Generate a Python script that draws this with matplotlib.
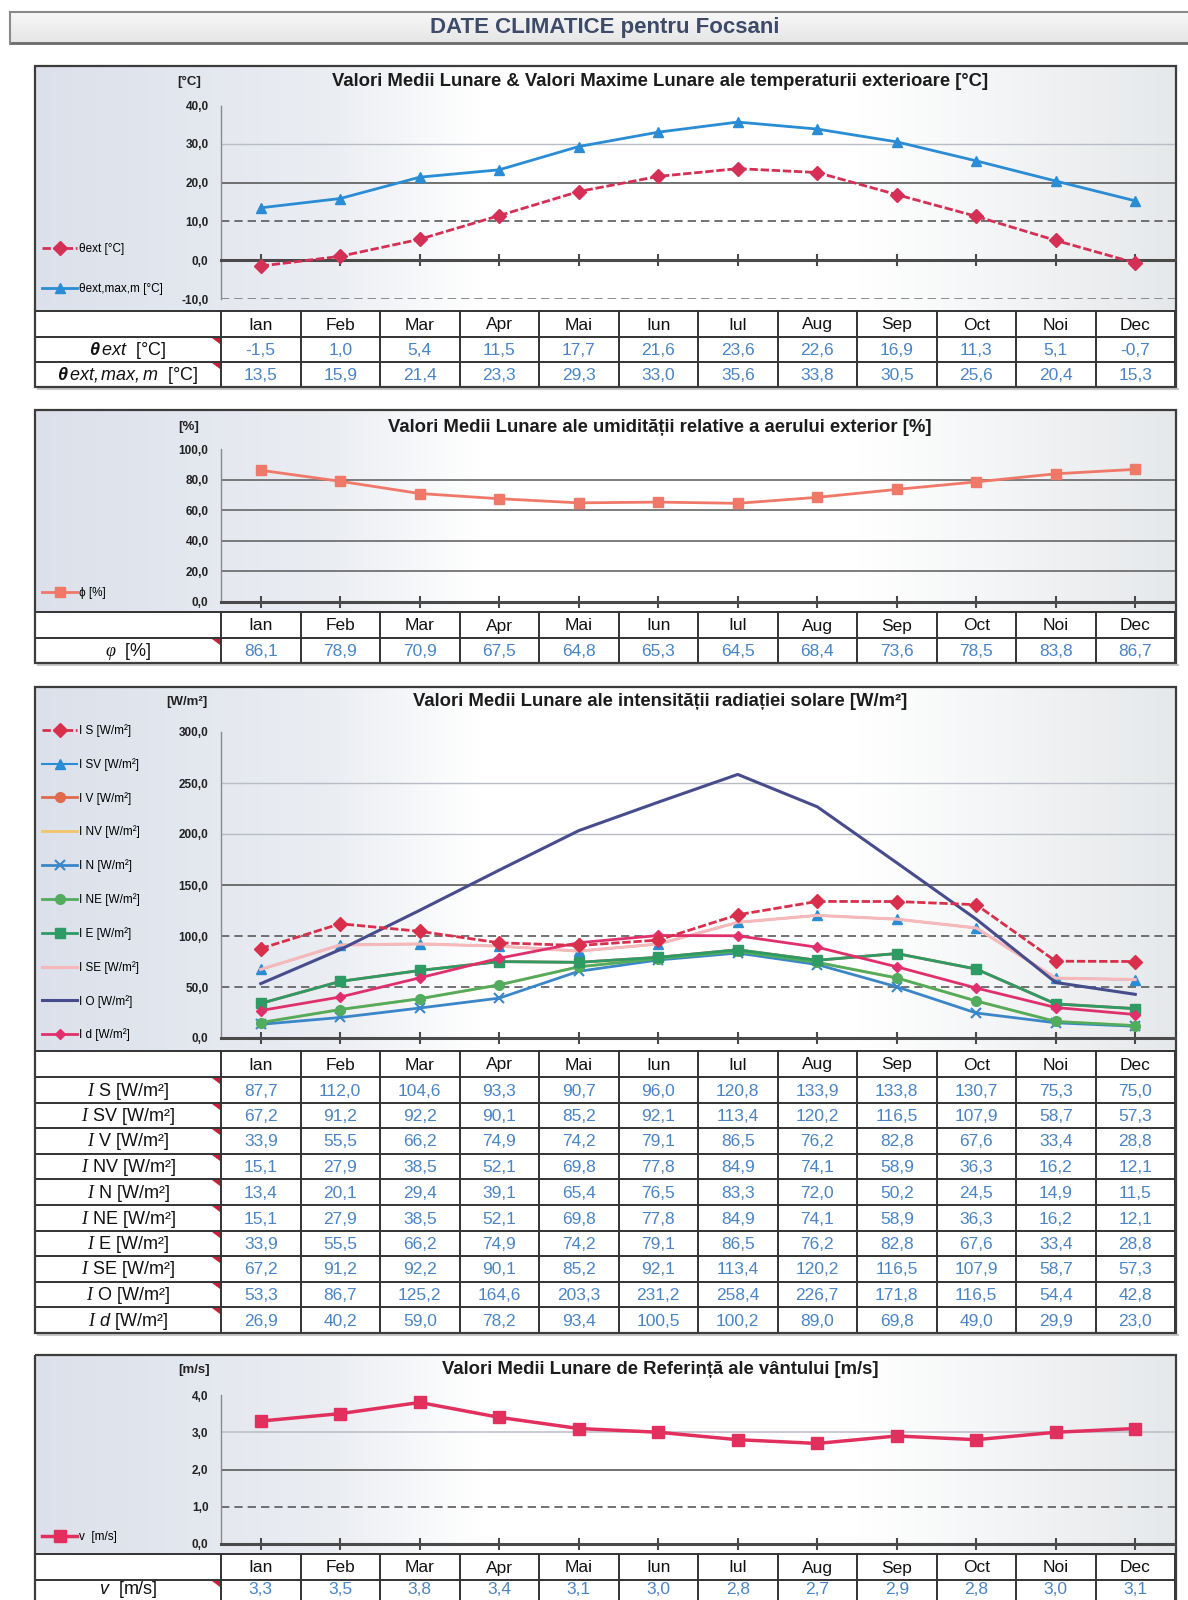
import numpy as np
import matplotlib
matplotlib.use("Agg")
import matplotlib.pyplot as plt
from matplotlib.patches import Rectangle, Polygon

plt.rcParams["font.family"] = ["Liberation Sans", "DejaVu Sans"]
plt.rcParams["mathtext.fontset"] = "custom"
plt.rcParams["mathtext.rm"] = "Liberation Sans"
plt.rcParams["mathtext.it"] = "Liberation Serif:italic"
plt.rcParams["mathtext.bf"] = "Liberation Sans:bold"
plt.rcParams["mathtext.sf"] = "Liberation Sans:italic"
plt.rcParams["mathtext.bfit"] = "Liberation Sans:italic:bold"

# ---- data ----
months = ["Ian", "Feb", "Mar", "Apr", "Mai", "Iun", "Iul", "Aug", "Sep", "Oct", "Noi", "Dec"]

theta_ext = [-1.5, 1.0, 5.4, 11.5, 17.7, 21.6, 23.6, 22.6, 16.9, 11.3, 5.1, -0.7]
theta_max = [13.5, 15.9, 21.4, 23.3, 29.3, 33.0, 35.6, 33.8, 30.5, 25.6, 20.4, 15.3]

phi = [86.1, 78.9, 70.9, 67.5, 64.8, 65.3, 64.5, 68.4, 73.6, 78.5, 83.8, 86.7]

I_S = [87.7, 112.0, 104.6, 93.3, 90.7, 96.0, 120.8, 133.9, 133.8, 130.7, 75.3, 75.0]
I_SV = [67.2, 91.2, 92.2, 90.1, 85.2, 92.1, 113.4, 120.2, 116.5, 107.9, 58.7, 57.3]
I_V = [33.9, 55.5, 66.2, 74.9, 74.2, 79.1, 86.5, 76.2, 82.8, 67.6, 33.4, 28.8]
I_NV = [15.1, 27.9, 38.5, 52.1, 69.8, 77.8, 84.9, 74.1, 58.9, 36.3, 16.2, 12.1]
I_N = [13.4, 20.1, 29.4, 39.1, 65.4, 76.5, 83.3, 72.0, 50.2, 24.5, 14.9, 11.5]
I_NE = [15.1, 27.9, 38.5, 52.1, 69.8, 77.8, 84.9, 74.1, 58.9, 36.3, 16.2, 12.1]
I_E = [33.9, 55.5, 66.2, 74.9, 74.2, 79.1, 86.5, 76.2, 82.8, 67.6, 33.4, 28.8]
I_SE = [67.2, 91.2, 92.2, 90.1, 85.2, 92.1, 113.4, 120.2, 116.5, 107.9, 58.7, 57.3]
I_O = [53.3, 86.7, 125.2, 164.6, 203.3, 231.2, 258.4, 226.7, 171.8, 116.5, 54.4, 42.8]
I_d = [26.9, 40.2, 59.0, 78.2, 93.4, 100.5, 100.2, 89.0, 69.8, 49.0, 29.9, 23.0]

wind = [3.3, 3.5, 3.8, 3.4, 3.1, 3.0, 2.8, 2.7, 2.9, 2.8, 3.0, 3.1]

# ---- layout (pixels, y measured from top) ----
W, H = 1188, 1600
BOX_L, BOX_R = 35, 1176
XL, XR = 221, 1175
COLW = (XR - XL) / 12
LABEL_X = (BOX_L + XL) / 2
VAL_BLUE = "#4a84c4"
GRID_DARK = "#5a5a5a"
GRID_LIGHT = "#b8bcc4"

fig = plt.figure(figsize=(W / 100, H / 100), dpi=100)
fig.patch.set_facecolor("white")

ax0 = fig.add_axes([0, 0, 1, 1])
ax0.set_xlim(0, W)
ax0.set_ylim(H, 0)
ax0.axis("off")


def fmt(v, dec=1):
    return f"{v:.{dec}f}".replace(".", ",")


def chart_background(top, bottom):
    xs = np.linspace(BOX_L, BOX_R, 400)
    stops_x = [BOX_L, 330, 480, 860, BOX_R]
    stops = np.array([[0.86, 0.88, 0.92], [0.92, 0.93, 0.95], [1, 1, 1], [1, 1, 1], [0.90, 0.91, 0.92]])
    rgb = np.stack([np.interp(xs, stops_x, stops[:, c]) for c in range(3)], axis=-1)
    ax0.imshow(rgb[None, :, :], extent=(BOX_L, BOX_R, bottom, top), aspect="auto", zorder=0)


def plot_axes(top, bottom, ylo, yhi, yticks, ylabel, ylabel_x, title, title_y):
    ax = fig.add_axes([XL / W, 1 - bottom / H, (XR - XL) / W, (bottom - top) / H])
    ax.patch.set_alpha(0)
    ax.set_xlim(-0.5, 11.5)
    ax.set_ylim(ylo, yhi)
    ax.set_yticks(yticks)
    ax.set_yticklabels([fmt(t) for t in yticks], fontsize=8.5, fontweight="bold", color="#222222")
    ax.tick_params(axis="y", length=0, pad=9)
    for s in ("top", "right"):
        ax.spines[s].set_visible(False)
    ax.spines["left"].set_color("#8a8a8a")
    ax.spines["left"].set_linewidth(1.0)
    ax.spines["left"].set_linestyle((0, (4, 1)))
    ax.spines["bottom"].set_position(("data", 0))
    ax.spines["bottom"].set_color("#4a4a4a")
    ax.spines["bottom"].set_linewidth(2.2)
    ax.set_xticks(range(12))
    ax.tick_params(axis="x", direction="inout", length=9, width=1.5, color="#4a4a4a",
                   labelbottom=False)
    ax0.text(ylabel_x, title_y, ylabel, ha="center", va="center", fontsize=9.5,
             fontweight="bold", color="#222222")
    ax0.text(660, title_y, title, ha="center", va="center", fontsize=13.3,
             fontweight="bold", color="#1c1c1c")
    return ax


def table(rows_y, labels, values, dec=1, clip_bottom=False):
    top, bottom = rows_y[0], rows_y[-1]
    for y in rows_y:
        ax0.plot([BOX_L, XR], [y, y], color="#333333", lw=1.4, zorder=3)
    for k in range(13):
        xk = XL + k * COLW
        ax0.plot([xk, xk], [top, bottom], color="#333333", lw=1.4, zorder=3)
    hy = (rows_y[0] + rows_y[1]) / 2
    for i, m in enumerate(months):
        ax0.text(XL + (i + 0.5) * COLW, hy + 1, m, ha="center", va="center",
                 fontsize=12.5, color="#111111")
    for r, (lab, vals) in enumerate(zip(labels, values)):
        cy = (rows_y[r + 1] + rows_y[r + 2]) / 2 + 1
        if clip_bottom:
            cy = min(cy, H - 10)
        ax0.text(LABEL_X, cy, lab, ha="center", va="center", fontsize=13, color="#111111")
        for i, v in enumerate(vals):
            ax0.text(XL + (i + 0.5) * COLW, cy, fmt(v, dec), ha="center", va="center",
                     fontsize=12.5, color=VAL_BLUE)
        yt = rows_y[r + 1]
        ax0.add_patch(Polygon([[XL - 9, yt + 1], [XL - 1, yt + 1], [XL - 1, yt + 7]],
                              closed=True, color="#c8203c", zorder=4, lw=0))


def panel_box(top, bottom):
    ax0.add_patch(Rectangle((BOX_L, top), BOX_R - BOX_L, bottom - top, fill=False,
                            edgecolor="#3c3c3c", lw=1.6, zorder=5))
    ax0.plot([BOX_L + 3, BOX_R + 2], [bottom + 2, bottom + 2], color="#c8c8c8", lw=1.5, zorder=1)


def legend(ax, handles, x, y, spacing):
    ax.legend(handles=handles, loc="upper left", bbox_to_anchor=(x / W, 1 - y / H),
              bbox_transform=fig.transFigure, frameon=False, fontsize=8.5,
              handlelength=3.0, handletextpad=0.15, borderpad=0, borderaxespad=0,
              labelspacing=spacing)


# ---- page title ----
title_grad = np.linspace(0.97, 0.90, 30)[:, None, None] * np.ones((1, 2, 3))
ax0.imshow(title_grad, extent=(10, W, 43, 12), aspect="auto", zorder=0)
ax0.plot([10, W], [12, 12], color="#8a8a8a", lw=1.5)
ax0.plot([10, W], [43, 43], color="#6a6a6a", lw=2)
ax0.plot([10, 10], [12, 43], color="#8a8a8a", lw=1.5)
ax0.text(605, 27, "DATE CLIMATICE pentru Focsani", ha="center", va="center",
         fontsize=16, fontweight="bold", color="#3d4a68")

x = np.arange(12)

# ---- panel 1: temperature ----
P1_ROWS = [311, 337, 362, 387]
chart_background(66, P1_ROWS[0])
ax1 = plot_axes(105, 299, -10, 40, [-10, 0, 10, 20, 30, 40], "[°C]", 189,
                "Valori Medii Lunare & Valori Maxime Lunare ale temperaturii exterioare [°C]", 82)
ax1.axhline(30, color=GRID_LIGHT, lw=1.0)
ax1.axhline(20, color=GRID_DARK, lw=1.2)
ax1.axhline(10, color=GRID_DARK, lw=1.2, ls=(0, (5, 3)))
ax1.axhline(-10, color="#7a7a7a", lw=1.2, ls=(0, (5, 3)))
l1, = ax1.plot(x, theta_ext, color="#d42f55", lw=2, ls=(0, (3, 1)), marker="D", ms=7,
               label="θext [°C]", zorder=5)
l2, = ax1.plot(x, theta_max, color="#2a8cd4", lw=2, marker="^", ms=7,
               label="θext,max,m [°C]", zorder=5)
legend(ax1, [l1, l2], 42, 243, 2.4)
panel_box(66, P1_ROWS[-1])
table(P1_ROWS,
      [r"$\mathbfit{\theta}\,\mathsf{ext}$  [°C]", r"$\mathbfit{\theta}\,\mathsf{ext,max,m}$  [°C]"],
      [theta_ext, theta_max])

# ---- panel 2: humidity ----
P2_ROWS = [612, 638, 663]
chart_background(410, P2_ROWS[0])
ax2 = plot_axes(449, 602, 0, 100, [0, 20, 40, 60, 80, 100], "[%]", 189,
                "Valori Medii Lunare ale umidității relative a aerului exterior [%]", 427)
for g in (20, 40, 60, 80):
    ax2.axhline(g, color=GRID_DARK, lw=1.1)
l3, = ax2.plot(x, phi, color="#f07868", lw=2, marker="s", ms=7, label="ϕ [%]", zorder=5)
legend(ax2, [l3], 42, 587, 1)
panel_box(410, P2_ROWS[-1])
table(P2_ROWS, [r"$\mathit{\varphi}$  [%]"], [phi])

# ---- panel 3: solar radiation ----
P3_ROWS = [1051] + [round(1077 + k * 25.6) for k in range(11)]
chart_background(687, P3_ROWS[0])
ax3 = plot_axes(732, 1038, 0, 300, [0, 50, 100, 150, 200, 250, 300], "[W/m²]", 187,
                "Valori Medii Lunare ale intensității radiației solare [W/m²]", 702)
ax3.axhline(250, color=GRID_LIGHT, lw=1.0)
ax3.axhline(200, color=GRID_LIGHT, lw=1.0)
ax3.axhline(150, color=GRID_DARK, lw=1.2)
ax3.axhline(100, color=GRID_DARK, lw=1.2, ls=(0, (5, 3)))
ax3.axhline(50, color=GRID_DARK, lw=1.2, ls=(0, (5, 3)))
h_s, = ax3.plot(x, I_S, color="#d8304c", lw=2, ls=(0, (3, 1)), marker="D", ms=7,
                label="I S [W/m²]", zorder=9)
h_sv, = ax3.plot(x, I_SV, color="#2a8cd4", lw=1.5, marker="^", ms=7,
                 label="I SV [W/m²]", zorder=4)
h_v, = ax3.plot(x, I_V, color="#e06a4c", lw=2, marker="o", ms=7, label="I V [W/m²]", zorder=5)
h_nv, = ax3.plot(x, I_NV, color="#f2c46a", lw=2, label="I NV [W/m²]", zorder=5)
h_n, = ax3.plot(x, I_N, color="#3a86c8", lw=2, marker="x", ms=7, mew=1.5,
                label="I N [W/m²]", zorder=6)
h_ne, = ax3.plot(x, I_NE, color="#52ac5e", lw=2, marker="o", ms=7, label="I NE [W/m²]", zorder=6)
h_e, = ax3.plot(x, I_E, color="#2e9a64", lw=2, marker="s", ms=7, label="I E [W/m²]", zorder=6)
h_se, = ax3.plot(x, I_SE, color="#f6b8b8", lw=2.2, label="I SE [W/m²]", zorder=5)
h_o, = ax3.plot(x, I_O, color="#464c8c", lw=2.2, label="I O [W/m²]", zorder=7)
h_d, = ax3.plot(x, I_d, color="#e0306c", lw=2, marker="D", ms=5.5, label="I d [W/m²]", zorder=8)
legend(ax3, [h_s, h_sv, h_v, h_nv, h_n, h_ne, h_e, h_se, h_o, h_d], 42, 724, 1.78)
panel_box(687, P3_ROWS[-1])
i_labels = [r"$\mathit{I}$ S [W/m²]", r"$\mathit{I}$ SV [W/m²]", r"$\mathit{I}$ V [W/m²]",
            r"$\mathit{I}$ NV [W/m²]", r"$\mathit{I}$ N [W/m²]", r"$\mathit{I}$ NE [W/m²]",
            r"$\mathit{I}$ E [W/m²]", r"$\mathit{I}$ SE [W/m²]", r"$\mathit{I}$ O [W/m²]",
            r"$\mathit{I}$ $\mathsf{d}$ [W/m²]"]
table(P3_ROWS, i_labels, [I_S, I_SV, I_V, I_NV, I_N, I_NE, I_E, I_SE, I_O, I_d])

# ---- panel 4: wind ----
P4_ROWS = [1554, 1580, 1606]
chart_background(1355, P4_ROWS[0])
ax4 = plot_axes(1395, 1544, 0, 4, [0, 1, 2, 3, 4], "[m/s]", 194,
                "Valori Medii Lunare de Referință ale vântului [m/s]", 1370)
ax4.axhline(3, color=GRID_LIGHT, lw=1.1)
ax4.axhline(2, color=GRID_DARK, lw=1.2)
ax4.axhline(1, color=GRID_DARK, lw=1.2, ls=(0, (5, 3)))
l4, = ax4.plot(x, wind, color="#e2305e", lw=2.5, marker="s", ms=8, label="v  [m/s]", zorder=5)
legend(ax4, [l4], 42, 1531, 1)
panel_box(1355, P4_ROWS[-1])
table(P4_ROWS, [r"$\mathsf{v}$  [m/s]"], [wind], clip_bottom=True)

fig.savefig("out.png", dpi=100)
